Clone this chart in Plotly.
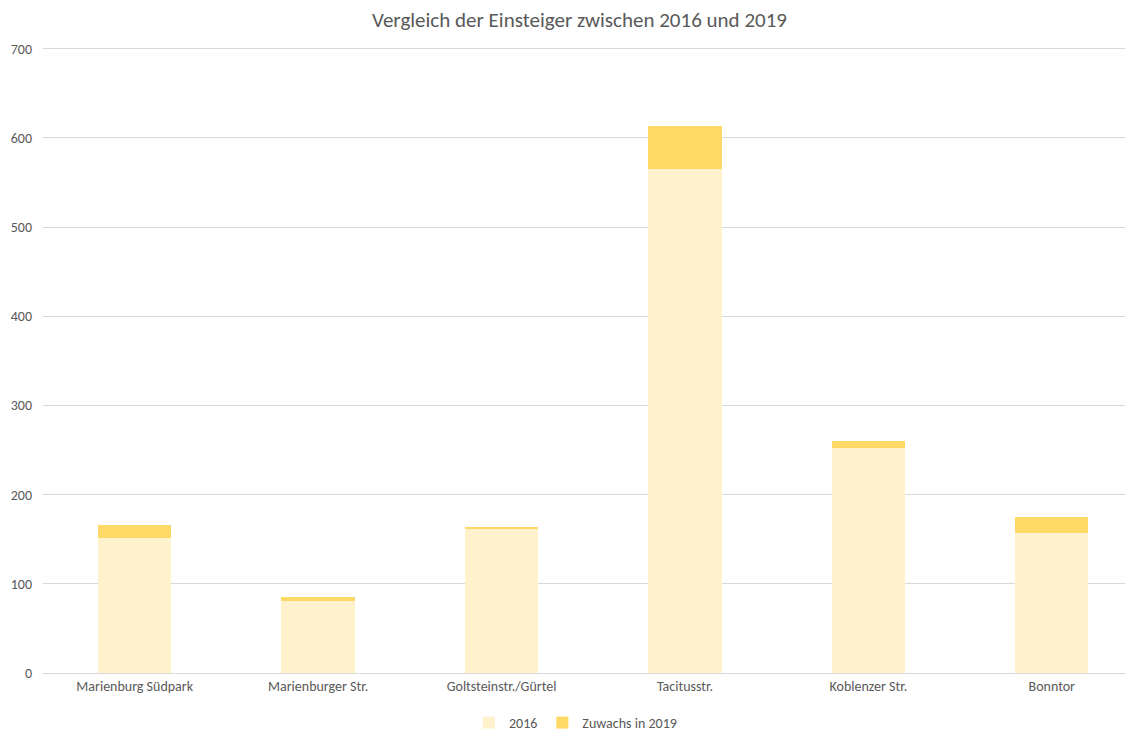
import plotly.graph_objects as go

categories = ["Marienburg Südpark", "Marienburger Str.", "Goltsteinstr./Gürtel",
              "Tacitusstr.", "Koblenzer Str.", "Bonntor"]
values_2016 = [151.5, 81, 161.5, 565.5, 252.5, 157]
values_increase = [14.5, 4, 2.5, 47.5, 8, 18.5]

font_family = "Carlito, Calibri, Lato, sans-serif"
gray = "#595959"

fig = go.Figure()
fig.add_trace(go.Bar(x=categories, y=values_2016, name="2016",
                     marker=dict(color="#FFF2CC", line=dict(width=0))))
fig.add_trace(go.Bar(x=categories, y=values_increase, name="Zuwachs in 2019",
                     marker=dict(color="#FFD966", line=dict(width=0))))

W, H = 1125, 725
fig.update_layout(
    barmode="stack",
    bargap=0.6,
    width=W, height=H,
    paper_bgcolor="white", plot_bgcolor="white",
    margin=dict(l=35, r=0, t=39, b=60, autoexpand=False),
    title=dict(text="Vergleich der Einsteiger zwischen 2016 und 2019",
               x=0.508, xanchor="center", xref="container",
               y=1 - 12 / H, yanchor="middle", yref="container",
               font=dict(family=font_family, size=21, color=gray)),
    font=dict(family=font_family, size=14, color=gray),
    legend=dict(orientation="h", x=0.5044, xanchor="center", xref="container",
                y=(H - 715) / H, yanchor="middle", yref="container",
                font=dict(family=font_family, size=14, color=gray),
                itemwidth=30, traceorder="normal"),
    showlegend=True,
)
fig.update_xaxes(range=[-0.5, 5.443], showgrid=False, zeroline=False,
                 showline=True, linecolor="#D9D9D9", linewidth=1,
                 ticks="", tickfont=dict(size=14, color=gray))
fig.update_yaxes(range=[0, 702], tickvals=[0, 100, 200, 300, 400, 500, 600, 700],
                 showgrid=True, gridcolor="#D9D9D9",
                 gridwidth=1, zeroline=False, showline=False, ticks="",
                 ticklabelstandoff=10,
                 tickfont=dict(size=14, color=gray))

fig.write_html("out.html")
